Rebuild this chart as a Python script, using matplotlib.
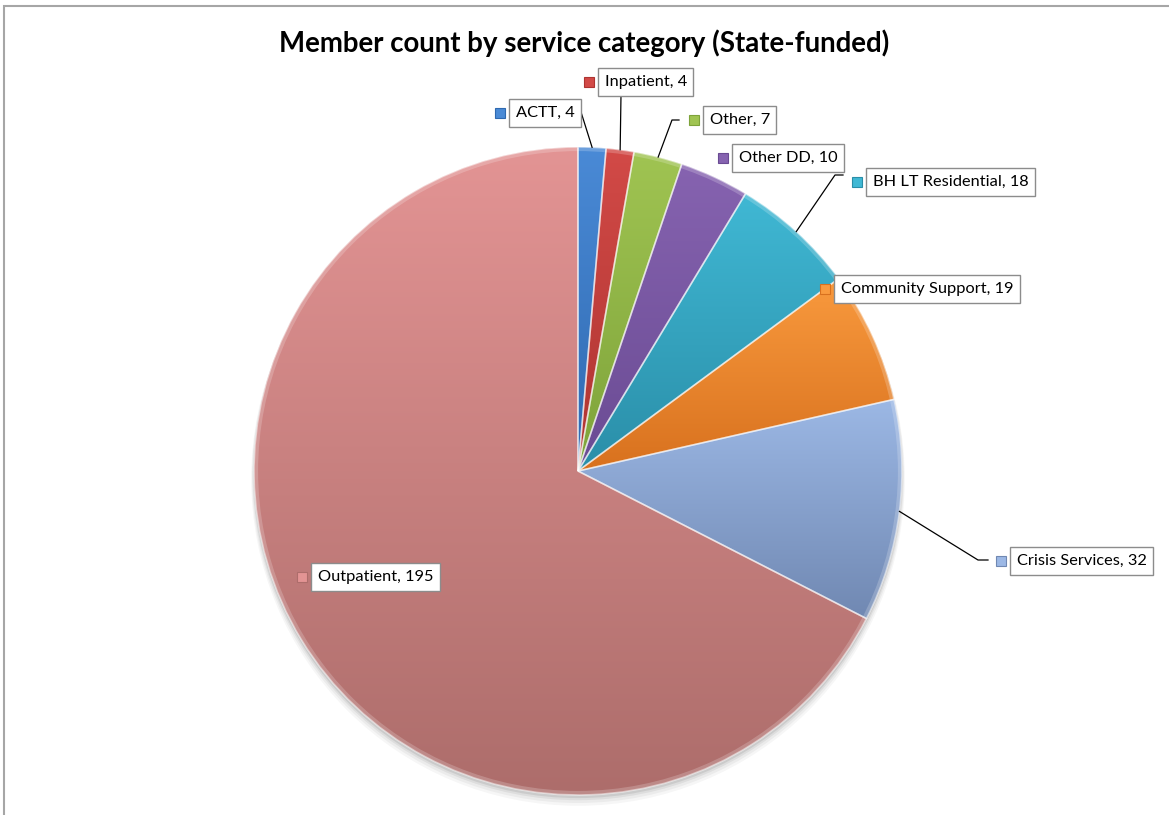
import numpy as np
import matplotlib
matplotlib.use("Agg")
import matplotlib.pyplot as plt
from matplotlib.colors import LinearSegmentedColormap
from matplotlib.patches import Circle, Rectangle

# data, clockwise from 12 o'clock
categories = ["ACTT", "Inpatient", "Other", "Other DD", "BH LT Residential",
              "Community Support", "Crisis Services", "Outpatient"]
members = [4, 4, 7, 10, 18, 19, 32, 195]
title = "Member count by service category (State-funded)"

# slice colours, light at the top of each slice, dark at the bottom
top_colors = ["#4A8AD6", "#D24A47", "#A0C452", "#8663B0", "#40B8D4",
              "#F99A3E", "#9CB8E5", "#E39494"]
bot_colors = ["#2F69B0", "#AE3431", "#7EA33A", "#6A4B93", "#2A8EA8",
              "#D8711E", "#7088B2", "#AD6D6B"]

W, H = 1169, 815
FONT = "Lato"

# label boxes: left edge and centre line in picture pixels
box_left = [509, 598, 703, 732, 866, 834, 1010, 311]
box_mid = [113, 82, 120, 158, 182, 289, 561, 577]
# leader elbows (picture pixels), the last point goes to the slice edge
leaders = {
    0: [(575, 112), (581, 112)],
    1: [(621, 95)],
    2: [(679, 120), (672, 120)],
    4: [(843, 175), (835, 175)],
    6: [(988, 560), (978, 560)],
}


def Y(y):
    return H - y


def fit_size(fig, text, target, size, **kw):
    t = fig.text(0, 0, text, fontsize=size, **kw)
    fig.canvas.draw()
    w = t.get_window_extent().width
    t.remove()
    return size * target / w


fig = plt.figure(figsize=(W / 100, H / 100), dpi=100)
ax = fig.add_axes([0, 0, 1, 1])

cx, cy, r = 578, Y(471), 324

# soft shadow under the pie
for k, a in [(7, 0.035), (5, 0.045), (3, 0.06), (1.5, 0.08)]:
    ax.add_patch(Circle((cx, cy - 1 - k), r + 0.4 * k, fc="k", alpha=a,
                        lw=0, zorder=0.5))

wedges, _ = ax.pie(members, startangle=90, counterclock=False,
                   center=(cx, cy), radius=r, frame=True,
                   wedgeprops=dict(fc="none", ec=(1, 1, 1, 0.5), lw=1.2))

grad = np.linspace(0, 1, 256).reshape(-1, 1)
for w, top, bot in zip(wedges, top_colors, bot_colors):
    ext = w.get_path().get_extents()
    cmap = LinearSegmentedColormap.from_list("g", [bot, top])
    im = ax.imshow(grad, cmap=cmap, origin="lower", aspect="auto",
                   extent=(ext.x0, ext.x1, ext.y0, ext.y1),
                   interpolation="bicubic", zorder=1)
    im.set_clip_path(w)
    w.set_zorder(2)

# bevel highlight along the rim
ax.add_patch(Circle((cx, cy), r - 2, fc="none", ec=(1, 1, 1, 0.2),
                    lw=3, zorder=2.5))

# leader lines
for i, pts in leaders.items():
    w = wedges[i]
    th = np.deg2rad((w.theta1 + w.theta2) / 2)
    xs = [p[0] for p in pts] + [cx + r * np.cos(th)]
    ys = [Y(p[1]) for p in pts] + [cy + r * np.sin(th)]
    ax.plot(xs, ys, color="black", lw=0.9, zorder=4)

# labels
fs = fit_size(fig, "Outpatient, 195", 115, 12, family=FONT)
pad = 0.4
pad_px = pad * fs * 100 / 72
for i, (name, val) in enumerate(zip(categories, members)):
    ax.text(box_left[i] + pad_px, Y(box_mid[i]), f"{name}, {val}",
            ha="left", va="center", fontsize=fs, family=FONT, zorder=5,
            bbox=dict(boxstyle=f"square,pad={pad}", fc="white",
                      ec="#8c8c8c", lw=1))
    ax.plot(box_left[i] - 9, Y(box_mid[i]), marker="s", ms=6.5,
            mfc=top_colors[i], mec=bot_colors[i], mew=0.8, zorder=5)

# title
tfs = fit_size(fig, title, 612, 18, family=FONT, weight="bold")
ax.text(584, Y(52), title, ha="center", va="baseline", fontsize=tfs,
        family=FONT, weight="bold", zorder=5)

# chart border (right and bottom run off the picture)
ax.add_patch(Rectangle((3.5, -20), W + 40, Y(6) + 20, fc="none",
                       ec="#a6a6a6", lw=1.5, zorder=6))

ax.set_xlim(0, W)
ax.set_ylim(0, H)
ax.set_aspect("auto")
ax.axis("off")

fig.savefig("out.png", dpi=100)
